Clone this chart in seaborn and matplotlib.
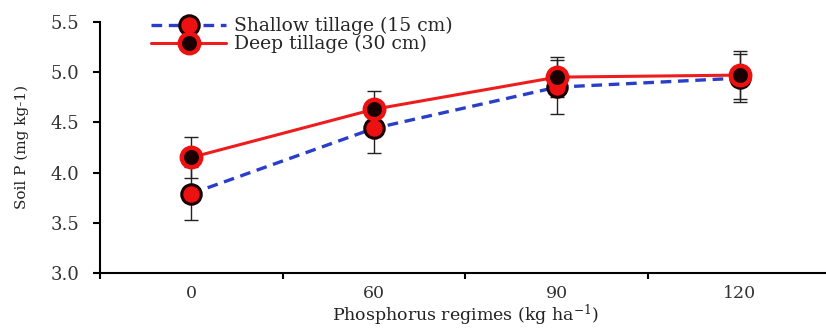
import matplotlib
matplotlib.use("Agg")
import matplotlib.pyplot as plt
import seaborn as sns
import pandas as pd
import numpy as np

categories = ["0", "60", "90", "120"]
shallow = [3.79, 4.44, 4.85, 4.94]
shallow_err = [0.26, 0.25, 0.27, 0.24]
deep = [4.15, 4.63, 4.95, 4.97]
deep_err = [0.20, 0.18, 0.20, 0.24]
series_names = ["Shallow tillage (15 cm)", "Deep tillage (30 cm)"]
yticks = [3.0, 3.5, 4.0, 4.5, 5.0, 5.5]

sns.set_theme(style="ticks")
plt.rcParams["font.family"] = ["DejaVu Serif"]
plt.rcParams["mathtext.fontset"] = "dejavuserif"

fig = plt.figure(figsize=(8.26, 3.32), dpi=100)
ax = fig.add_axes([0.121, 0.178, 0.885, 0.756])

pos = np.arange(len(categories))
df_s = pd.DataFrame({"x": pos, "y": shallow})
df_d = pd.DataFrame({"x": pos, "y": deep})

ax.errorbar(pos, shallow, yerr=shallow_err, fmt="none", ecolor="#222222",
            elinewidth=1.0, capsize=5, capthick=1.0, zorder=2)
ax.errorbar(pos, deep, yerr=deep_err, fmt="none", ecolor="#222222",
            elinewidth=1.0, capsize=5, capthick=1.0, zorder=2)

sns.lineplot(data=df_s, x="x", y="y", ax=ax, color="#2a3fc8", lw=2.4,
             linestyle=(0, (3.2, 2.0)), marker="o", markersize=14,
             markerfacecolor="#ee1111", markeredgecolor="#1a0000",
             markeredgewidth=2.2, label=series_names[0], zorder=3)
sns.lineplot(data=df_d, x="x", y="y", ax=ax, color="#ee1c1c", lw=2.2,
             marker="o", markersize=14, markerfacecolor="#1a0000",
             markeredgecolor="#ee1111", markeredgewidth=3.2,
             label=series_names[1], zorder=4)

ax.set_xlim(-0.5, 3.5)
ax.set_ylim(3.0, 5.5)
ax.set_yticks(yticks)
ax.set_yticklabels([f"{v:.1f}" for v in yticks])
ax.set_xticks(pos)
ax.set_xticklabels(categories)
ax.set_xticks(np.arange(-0.5, 3.6, 1.0), minor=True)
ax.tick_params(axis="x", which="major", length=0, labelsize=12.5, pad=9, colors="#333333")
ax.tick_params(axis="x", which="minor", length=4, width=1.5, color="black")
ax.tick_params(axis="y", length=5, width=1.5, labelsize=13, pad=10, colors="black", labelcolor="#333333")

for s in ["top", "right"]:
    ax.spines[s].set_visible(False)
for s in ["left", "bottom"]:
    ax.spines[s].set_linewidth(1.5)
    ax.spines[s].set_color("black")

ax.set_xlabel(r"Phosphorus regimes (kg ha$^{-1}$)", fontsize=12.5, labelpad=0, color="#222222")
ax.set_ylabel("Soil P (mg kg-1)", fontsize=11, labelpad=15, color="#222222")

leg = ax.legend(loc="upper left", bbox_to_anchor=(0.06, 1.05), frameon=False,
                fontsize=13.5, handlelength=4.0, handletextpad=0.4,
                labelspacing=0.0, borderaxespad=0)

fig.savefig("out.png", dpi=100)
